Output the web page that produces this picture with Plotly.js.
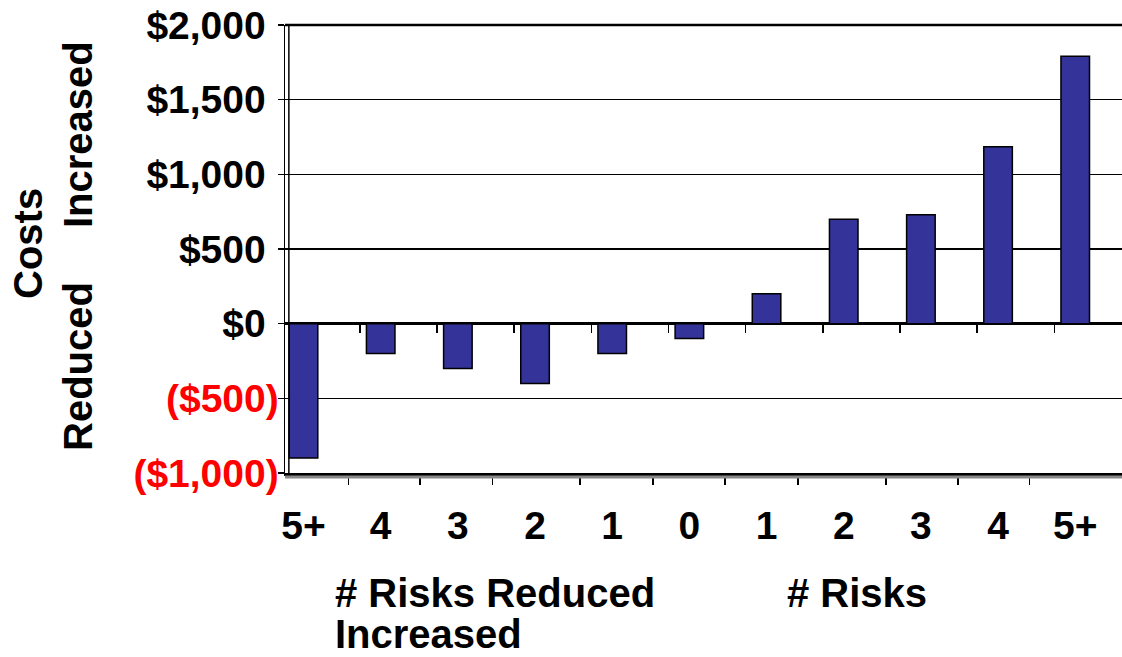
<!DOCTYPE html>
<html>
<head>
<meta charset="utf-8">
<script src="https://cdn.plot.ly/plotly-3.0.1.min.js"></script>
<style>
  html, body { margin: 0; padding: 0; background: #ffffff; }
  #chart { width: 1122px; height: 657px; }
</style>
</head>
<body>
<div id="chart"></div>
<script>
// Change in cost by number of health risks reduced (left) or increased (right)
const categories = ['5+', '4', '3', '2', '1', '0', '1', '2', '3', '4', '5+'];
const costChange = [-900, -200, -300, -400, -200, -100, 200, 700, 730, 1185, 1790];

// Value axis ticks
const yTickValues = [-1000, -500, 0, 500, 1000, 1500, 2000];
const yTickLabels = ['($1,000)', '($500)', '$0', '$500', '$1,000', '$1,500', '$2,000'];

// Tick marks along the lower category axis
const lowerAxisTicks = [-0.25, 0.58, 1.51, 2.45, 3.58, 4.53, 5.46, 6.41, 7.55, 8.48, 9.41];

const FONT = 'Liberation Sans, Arial, sans-serif';
const positions = categories.map((_, i) => i);
const xRange = [-0.24, 10.606];

// Negative amounts in red; positive ones keep a hidden ")" so digits line up
const yTickText = yTickLabels.map((t, i) =>
  yTickValues[i] < 0
    ? '<span style="color:#ff0000">' + t + '</span>'
    : t + '<span style="color:#ffffff">)</span>');

const bars = {
  type: 'bar',
  x: positions,
  y: costChange,
  width: 0.37,
  marker: { color: '#333399', line: { color: '#000000', width: 1.5 } },
  hoverinfo: 'skip',
  showlegend: false
};

// Invisible companions so the overlaid label / tick axes get drawn
const ghost = (axis) => ({
  type: 'scatter',
  mode: 'markers',
  x: positions,
  y: costChange,
  xaxis: axis,
  yaxis: 'y',
  marker: { opacity: 0, size: 1 },
  hoverinfo: 'skip',
  showlegend: false
});

// Plot-area geometry used to place the free-standing labels
const L = 285, T = 25, W = 837, H = 448;
const px = x => (x - L) / W;
const py = y => (T + H - y) / H;

const bold = (size) => ({ family: FONT, size: size, color: '#000000', weight: 'bold' });

const layout = {
  width: 1122,
  height: 657,
  margin: { l: L, r: 0, t: T, b: 657 - T - H, pad: 0 },
  paper_bgcolor: '#ffffff',
  plot_bgcolor: '#ffffff',
  showlegend: false,
  bargap: 0,
  xaxis: {
    range: xRange,
    showgrid: false,
    zeroline: false,
    showline: true,
    linecolor: '#000000',
    linewidth: 3,
    tickmode: 'array',
    tickvals: lowerAxisTicks,
    ticks: 'outside',
    ticklen: 9,
    tickwidth: 1.5,
    tickcolor: '#000000',
    showticklabels: false,
    fixedrange: true
  },
  xaxis2: {
    overlaying: 'x',
    anchor: 'y',
    side: 'bottom',
    range: xRange,
    showgrid: false,
    zeroline: false,
    showline: false,
    tickmode: 'array',
    tickvals: positions,
    ticktext: categories,
    ticks: '',
    ticklabelstandoff: 26,
    tickfont: bold(39),
    fixedrange: true
  },
  xaxis3: {
    overlaying: 'x',
    anchor: 'free',
    position: 1 / 3,
    side: 'bottom',
    range: xRange,
    showgrid: false,
    zeroline: false,
    showline: false,
    tickmode: 'array',
    tickvals: positions.slice(0, -1).map(p => p + 0.73),
    ticks: 'outside',
    ticklen: 8,
    tickwidth: 1.5,
    tickcolor: '#000000',
    showticklabels: false,
    fixedrange: true
  },
  yaxis: {
    range: [-1000, 2000],
    tickmode: 'array',
    tickvals: yTickValues,
    ticktext: yTickText,
    ticks: 'outside',
    ticklen: 6,
    tickwidth: 1.5,
    tickcolor: '#000000',
    ticklabelstandoff: -9,
    tickfont: bold(39),
    showgrid: true,
    gridcolor: '#000000',
    gridwidth: 1.5,
    zeroline: true,
    zerolinecolor: '#000000',
    zerolinewidth: 3,
    showline: true,
    linecolor: '#000000',
    linewidth: 1.5,
    fixedrange: true
  },
  shapes: [
    // inner edge of the back wall next to the value axis
    { type: 'line', xref: 'x', yref: 'paper', x0: xRange[0] + 0.05, x1: xRange[0] + 0.05, y0: 0, y1: 1,
      line: { color: '#000000', width: 1.5 } },
    // top border of the plot area
    { type: 'line', xref: 'paper', yref: 'paper', x0: 0, x1: 1, y0: 1, y1: 1,
      line: { color: '#000000', width: 2.5 } },
    // shaded floor edge under the category axis
    { type: 'line', xref: 'paper', yref: 'paper', x0: 0, x1: 1, y0: py(477), y1: py(477),
      line: { color: '#888888', width: 3 } }
  ],
  annotations: [
    { text: 'Costs', xref: 'paper', yref: 'paper', x: px(28), y: py(244),
      xanchor: 'center', yanchor: 'middle', textangle: -90, showarrow: false, font: bold(40) },
    { text: 'Increased', xref: 'paper', yref: 'paper', x: px(78), y: py(135),
      xanchor: 'center', yanchor: 'middle', textangle: -90, showarrow: false, font: bold(40) },
    { text: 'Reduced', xref: 'paper', yref: 'paper', x: px(78), y: py(367),
      xanchor: 'center', yanchor: 'middle', textangle: -90, showarrow: false, font: bold(40) },
    { text: '# Risks Reduced', xref: 'paper', yref: 'paper', x: px(333), y: py(593),
      xanchor: 'left', yanchor: 'middle', showarrow: false, font: bold(40) },
    { text: '# Risks', xref: 'paper', yref: 'paper', x: px(785), y: py(593),
      xanchor: 'left', yanchor: 'middle', showarrow: false, font: bold(40) },
    { text: 'Increased', xref: 'paper', yref: 'paper', x: px(333), y: py(634),
      xanchor: 'left', yanchor: 'middle', showarrow: false, font: bold(40) }
  ]
};

Plotly.newPlot('chart', [bars, ghost('x2'), ghost('x3')], layout,
  { displayModeBar: false, staticPlot: true });
</script>
</body>
</html>
